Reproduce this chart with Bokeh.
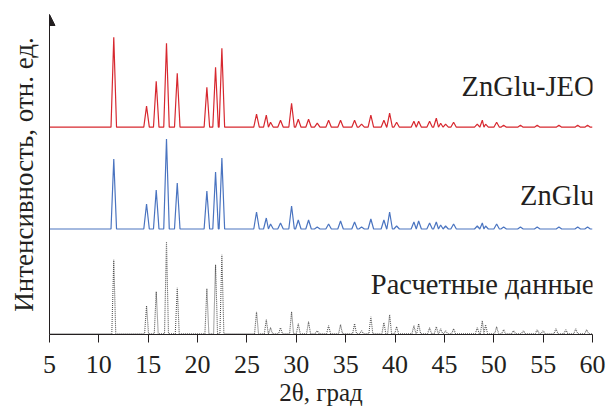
from bokeh.plotting import figure
from bokeh.models import Range1d, FixedTicker, Label, Arrow, NormalHead
from bokeh.embed import file_html
from bokeh.resources import INLINE

# ---- data (2theta in degrees, intensity in arbitrary units) ----
two_theta = [11.51, 14.83, 15.81, 16.85, 17.94, 20.94, 21.82, 22.46, 25.97, 26.96,
             27.39, 28.40, 29.52, 30.20, 31.24, 32.12, 33.27, 34.48, 35.90, 36.61,
             37.55, 38.87, 39.45, 40.16, 41.91, 42.39, 43.50, 44.18, 44.62, 45.12,
             45.93, 48.33, 48.84, 49.17, 50.29, 51.00]

red_int = [90, 21, 46, 84, 54, 40, 60, 79, 13, 12,
           5, 7, 24, 8, 8, 4, 7, 7, 7, 3,
           12, 7, 14, 5, 6, 6, 6, 9, 4, 3,
           5, 3, 7, 3, 5, 2]

blue_int = [70, 25, 39, 90, 46, 38, 57, 71, 17, 11,
            5, 6, 23, 9, 9, 2, 5, 8, 7, 2,
            10, 9, 17, 3, 7, 8, 6, 7, 4, 3,
            5, 3, 6, 3, 5, 2]

tail_theta = [52.7, 54.4, 56.6, 58.5, 59.5]
red_tail = [2, 2, 2, 2, 2]
blue_tail = [2, 2, 2, 2, 2]

calc_theta = [11.51, 14.83, 15.81, 16.85, 17.94, 20.94, 21.82, 22.46, 25.97, 26.96,
              27.39, 28.40, 29.52, 30.20, 31.24, 32.12, 33.27, 34.48, 35.90, 36.61,
              37.55, 38.87, 39.45, 40.16, 41.91, 42.39, 43.50, 44.18, 44.62, 45.12,
              45.93, 48.33, 48.84, 49.17, 50.29, 51.00, 52.00, 53.00, 54.40, 55.00,
              56.30, 57.30, 58.30, 59.40]
calc_int = [74, 28, 42, 92, 46, 45, 69, 79, 22, 14,
            6, 6, 22, 10, 12, 3, 8, 9, 10, 3,
            17, 11, 19, 7, 8, 10, 6, 7, 5, 3,
            5, 6, 13, 9, 7, 4, 3, 3, 4, 3,
            5, 4, 5, 4]

offset_red = 207.3
offset_blue = 105.5
offset_calc = 0.8

x_ticks = [5, 10, 15, 20, 25, 30, 35, 40, 45, 50, 55, 60]
X0, X1 = 5, 60
Y0, Y1 = 0, 320

RED = "#d7282f"
BLUE = "#4a74c0"
GRAY = "#555555"
TXT = "#231f20"
FONT = "Liberation Serif"


def profile(pos, hts, base, w):
    xs, ys = [X0], [base]
    n = len(pos)
    for i in range(n):
        p, h = pos[i], hts[i]
        lg = p - pos[i - 1] if i > 0 else 1.0
        rg = pos[i + 1] - p if i < n - 1 else 1.0
        wl = min(w, lg / 2)
        wr = min(w, rg / 2)
        xs += [p - wl, p, p + wr]
        ys += [base, base + h, base]
    xs.append(X1)
    ys.append(base)
    return xs, ys


p = figure(width=609, height=409, output_backend="svg", toolbar_location=None,
           x_range=Range1d(X0, X1), y_range=Range1d(Y0, Y1),
           min_border_left=49, min_border_right=17, min_border_top=14,
           min_border_bottom=75)
p.outline_line_color = None
p.grid.visible = False
p.background_fill_color = "white"

rx, ry = profile(two_theta + tail_theta, red_int + red_tail, offset_red, 0.28)
bx, by = profile(two_theta + tail_theta, blue_int + blue_tail, offset_blue, 0.28)
cx, cy = profile(calc_theta, calc_int, offset_calc, 0.2)

p.line(rx, ry, line_color=RED, line_width=1.2)
p.line(bx, by, line_color=BLUE, line_width=1.2)
p.line(cx, cy, line_color=GRAY, line_width=1.1, line_dash="1 1")

# x axis
xa = p.xaxis[0]
xa.ticker = FixedTicker(ticks=x_ticks)
xa.axis_line_color = TXT
xa.major_tick_line_color = TXT
xa.major_tick_out = 8
xa.major_tick_in = 0
xa.minor_tick_line_color = None
xa.major_label_text_font = FONT
xa.major_label_text_font_size = "26px"
xa.major_label_text_color = TXT
xa.major_label_standoff = 13
xa.axis_label = "2θ, град"
xa.axis_label_text_font = FONT
xa.axis_label_text_font_size = "25px"
xa.axis_label_text_font_style = "normal"
xa.axis_label_text_color = TXT
xa.axis_label_standoff = 3

# y axis
ya = p.yaxis[0]
ya.ticker = FixedTicker(ticks=[])
ya.axis_line_color = TXT
ya.major_tick_line_color = None
ya.minor_tick_line_color = None
ya.axis_label = "Интенсивность, отн. ед."
ya.axis_label_text_font = FONT
ya.axis_label_text_font_size = "27px"
ya.axis_label_text_font_style = "normal"
ya.axis_label_text_color = TXT
ya.axis_label_standoff = 11

p.add_layout(Arrow(end=NormalHead(size=11, fill_color=TXT, line_color=TXT),
                   x_start=X0, y_start=Y1 - 10, x_end=X0, y_end=Y1,
                   line_color=TXT, line_width=1))

labels = [("ZnGlu-JEO", 248), ("ZnGlu", 139), ("Расчетные данные", 50)]
for txt, yy in labels:
    p.add_layout(Label(x=X1, y=yy, text=txt, text_align="right",
                       text_baseline="alphabetic", text_font=FONT,
                       text_font_size="28.5px", text_color=TXT, x_offset=2))

open("out.html", "w").write(file_html(p, INLINE))
